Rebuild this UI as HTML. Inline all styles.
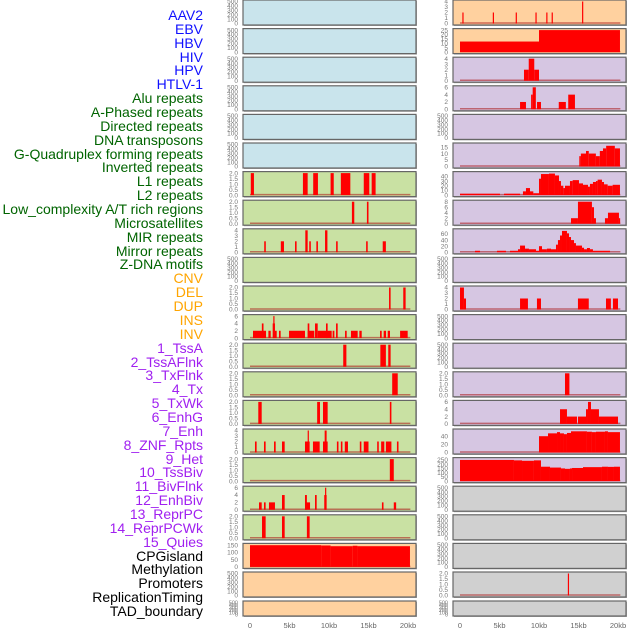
<!DOCTYPE html>
<html><head><meta charset="utf-8">
<style>
html,body{margin:0;padding:0;background:#fff;}
#c{position:relative;width:630px;height:630px;overflow:hidden;font-family:"Liberation Sans",sans-serif;}
.lab{position:absolute;right:427px;font-size:14px;line-height:14px;white-space:nowrap;}
</style></head>
<body>
<div id="c">
<svg id="svg" width="630" height="630" style="position:absolute;left:0;top:0"></svg>
</div>
<script>
// ---- labels ----
const trackLabels = ["AAV2","EBV","HBV","HIV","HPV","HTLV-1","Alu repeats","A-Phased repeats","Directed repeats","DNA transposons","G-Quadruplex forming repeats","Inverted repeats","L1 repeats","L2 repeats","Low_complexity A/T rich regions","Microsatellites","MIR repeats","Mirror repeats","Z-DNA motifs","CNV","DEL","DUP","INS","INV","1_TssA","2_TssAFlnk","3_TxFlnk","4_Tx","5_TxWk","6_EnhG","7_Enh","8_ZNF_Rpts","9_Het","10_TssBiv","11_BivFlnk","12_EnhBiv","13_ReprPC","14_ReprPCWk","15_Quies","CPGisland","Methylation","Promoters","ReplicationTiming","TAD_boundary"];
const labelColors = ["#1010ff","#1010ff","#1010ff","#1010ff","#1010ff","#1010ff","#006400","#006400","#006400","#006400","#006400","#006400","#006400","#006400","#006400","#006400","#006400","#006400","#006400","#ffa500","#ffa500","#ffa500","#ffa500","#ffa500","#a020f0","#a020f0","#a020f0","#a020f0","#a020f0","#a020f0","#a020f0","#a020f0","#a020f0","#a020f0","#a020f0","#a020f0","#a020f0","#a020f0","#a020f0","#000","#000","#000","#000","#000"];
const xTickValues = [0,5,10,15,20];
const xTickLabels = ["0","5kb","10kb","15kb","20kb"];

// ---- tick sets ----
const ticksEmpty = ["0","100","200","300","400","500"];
const ticks2 = ["0.0","0.5","1.0","1.5","2.0"];
const ticks4 = ["0","1","2","3","4"];
const ticks6 = ["0","2","4","6"];
const ticks8 = ["0","2","4","6","8"];
const ticks15 = ["0","5","10","15"];
const ticks25 = ["0","5","10","15","20","25"];
const ticks40 = ["0","10","20","30","40"];
const ticks60 = ["0","20","40","60"];
const ticks40b = ["0","20","40"];
const ticks250 = ["0","50","100","150","200","250"];
const ticks150 = ["0","50","100","150"];

// ---- left column bars [startKb, endKb, value] ----
const L7 = [[0.1,0.5,2],[6.7,7.3,2],[8.0,8.6,2],[10.2,10.6,2],[11.5,12.7,2],[14.4,15.1,2],[15.4,15.9,2]];
const L8 = [[12.9,13.2,2],[14.8,15.0,2]];
const L9 = [[1.8,2.0,2],[3.9,4.3,2],[5.7,5.9,2],[7.0,7.3,4],[7.5,7.7,2],[8.4,8.6,2],[9.5,9.8,4],[10.9,11.1,2],[14.7,14.9,2],[16.8,17.2,2]];
const L11 = [[17.6,17.8,2],[19.4,19.7,2]];
const L12 = [[0.38,2.03,2],[1.5,1.71,4],[2.33,2.62,2],[2.87,3.16,4],[2.95,3.05,6],[3.16,3.38,2],[3.67,3.88,2],[4.94,6.96,2],[7.3,7.51,4],[7.3,8.14,2],[8.23,8.57,4],[8.57,10.34,2],[9.62,9.83,4],[10.46,10.68,2],[10.89,11.1,4],[12.03,12.24,2],[12.78,13.63,2],[13.84,14.14,2],[16.46,16.67,2],[16.92,17.22,2],[17.43,17.72,2],[19.0,19.96,2]];
const L13 = [[11.8,12.2,2],[16.5,17.2,2],[17.5,17.8,2]];
const L14 = [[18.0,18.7,2]];
const L15 = [[1.05,1.48,2],[8.5,8.86,2],[9.24,9.83,2],[17.7,17.9,2]];
const L16 = [[0.63,0.84,2],[1.77,1.98,2],[3.04,3.25,2],[4.05,4.39,2],[6.96,7.55,2],[7.3,7.45,4],[7.97,8.82,2],[9.24,9.83,2],[9.45,9.7,4],[11.0,11.2,2],[11.5,11.7,2],[12.0,12.4,2],[13.9,14.1,2],[14.4,15.0,2],[16.1,16.3,2],[16.6,17.0,2],[17.2,17.9,2],[18.6,18.8,2]];
const L17 = [[17.7,18.2,2]];
const L18 = [[1.14,1.48,2],[1.77,1.98,2],[2.4,3.16,2],[4.05,4.39,4],[6.96,7.6,2],[6.96,7.2,4],[8.23,8.44,4],[9.4,9.7,4],[9.5,9.6,6],[16.7,16.9,2],[18.2,18.5,2]];
const L19 = [[1.52,1.98,2],[4.05,4.39,2],[7.2,7.55,2]];
const L20 = [[0,9.0,150],[9.0,10.2,148],[10.2,13.0,143],[13.0,13.6,146],[13.6,20.25,143]];

// ---- right column bars ----
const R1 = [[0.3,0.4,2],[4.15,4.25,2],[7.05,7.15,2],[9.55,9.65,2],[10.92,11.02,2],[11.6,11.7,2],[15.45,15.55,4]];
const R2 = [[0,10.0,12],[10.0,20.25,25]];
const R3 = [[8.1,8.7,2],[8.7,9.4,4],[9.4,10.0,2]];
const R4 = [[7.6,8.35,2],[9.0,9.2,4],[9.2,9.6,6],[9.75,10.25,2],[12.5,13.4,2],[13.7,14.55,4]];
const R6 = [[15.1,15.3,8],[15.3,15.95,10],[15.95,16.3,12],[16.3,17.2,10],[17.2,17.7,8],[17.7,18.1,12],[18.1,18.5,14],[18.5,19.6,16],[19.6,20.25,14]];
const R7 = [[0,5.06,3],[5.57,7.6,3],[7.97,8.35,8],[8.35,8.86,15],[8.86,9.28,8],[9.28,10.0,4],[10.0,10.25,35],[10.25,11.26,45],[11.26,12.02,46],[12.02,12.53,42],[12.53,12.78,30],[12.78,13.08,20],[13.08,13.29,15],[13.29,13.92,20],[13.92,14.26,30],[14.26,15.06,32],[15.06,15.57,25],[15.57,16.2,22],[16.2,16.45,18],[16.45,16.83,24],[16.83,17.21,28],[17.21,17.42,30],[17.42,17.97,33],[17.97,18.23,28],[18.23,18.69,23],[18.69,19.32,20],[19.32,20.25,22]];
const R8 = [[14.05,14.93,2],[14.93,16.7,8],[16.7,16.96,6],[16.96,17.21,2],[18.35,18.73,2],[18.73,20.12,4],[20.12,20.25,2]];
const R9 = [[1.9,2.53,5],[4.68,5.82,5],[6.33,7.34,5],[7.34,7.6,10],[7.6,8.23,22],[8.23,8.73,12],[8.73,9.62,10],[9.62,10.0,5],[10.0,10.38,20],[10.38,11.0,10],[11.0,11.52,12],[11.52,12.15,10],[12.15,12.4,25],[12.4,12.66,40],[12.66,12.91,55],[12.91,13.54,70],[13.54,13.8,62],[13.8,14.05,50],[14.05,14.43,40],[14.43,14.68,30],[14.68,15.44,22],[15.44,15.7,15],[15.7,16.07,10],[16.07,16.45,14],[16.45,16.83,10],[16.83,18.99,5]];
const R11 = [[0,0.5,4],[0.5,0.76,2],[7.6,8.6,2],[9.74,10.25,2],[14.93,16.3,2],[18.48,19.1,2],[19.36,20.0,2]];
const R14 = [[13.29,13.85,2]];
const R15 = [[12.66,13.54,4],[13.54,14.81,2],[14.93,15.95,2],[15.95,16.2,4],[16.2,16.58,6],[16.58,17.59,4],[17.59,20.0,2]];
const R16 = [[10.0,11.14,40],[11.14,12.28,47],[12.28,12.66,50],[12.66,13.16,47],[13.16,13.54,45],[13.54,14.05,48],[14.05,16.07,52],[16.07,16.7,51],[16.7,17.21,50],[17.21,18.35,51],[18.35,18.73,52],[18.73,20.25,50]];
const R17 = [[0,6.83,250],[6.83,7.85,245],[7.85,9.36,240],[9.36,10.25,245],[10.25,11.39,170],[11.39,12.78,160],[12.78,13.29,150],[13.29,13.92,145],[13.92,14.18,150],[14.18,15.57,155],[15.57,17.97,165],[17.97,18.73,170],[18.73,19.49,168],[19.49,20.25,170]];
const R21 = [[13.65,13.8,2]];

const BLUE="#c9e4ec",GREEN="#c9e1a3",ORANGE="#ffd19f",PURPLE="#d6c6e2",GRAY="#d0d0d0";
const leftRows = [
 [BLUE,null,ticksEmpty,null],[BLUE,null,ticksEmpty,null],[BLUE,null,ticksEmpty,null],[BLUE,null,ticksEmpty,null],[BLUE,null,ticksEmpty,null],[BLUE,null,ticksEmpty,null],
 [GREEN,L7,ticks2,2],[GREEN,L8,ticks2,2],[GREEN,L9,ticks4,4],[GREEN,null,ticksEmpty,null],[GREEN,L11,ticks2,2],[GREEN,L12,ticks6,6],
 [GREEN,L13,ticks2,2],[GREEN,L14,ticks2,2],[GREEN,L15,ticks2,2],[GREEN,L16,ticks4,4],[GREEN,L17,ticks2,2],[GREEN,L18,ticks6,6],[GREEN,L19,ticks2,2],
 [ORANGE,L20,ticks150,152],[ORANGE,null,ticksEmpty,null],[ORANGE,null,ticksEmpty,null]];
const rightRows = [
 [ORANGE,R1,ticks4,4],[ORANGE,R2,ticks25,25],[PURPLE,R3,ticks4,4],[PURPLE,R4,ticks6,6],[PURPLE,null,ticksEmpty,null],[PURPLE,R6,ticks15,17],
 [PURPLE,R7,ticks40,47],[PURPLE,R8,ticks8,8],[PURPLE,R9,ticks60,72],[PURPLE,null,ticksEmpty,null],[PURPLE,R11,ticks4,4],[PURPLE,null,ticksEmpty,null],
 [PURPLE,null,ticksEmpty,null],[PURPLE,R14,ticks2,2],[PURPLE,R15,ticks6,6],[PURPLE,R16,ticks40b,54],[PURPLE,R17,ticks250,260],
 [GRAY,null,ticksEmpty,null],[GRAY,null,ticksEmpty,null],[GRAY,null,ticksEmpty,null],[GRAY,R21,ticks2,2],[GRAY,null,ticksEmpty,null]];

const NS="http://www.w3.org/2000/svg";
const svg=document.getElementById('svg');
function mk(tag,attrs,parent){const e=document.createElementNS(NS,tag);for(const k in attrs)e.setAttribute(k,attrs[k]);(parent||svg).appendChild(e);return e;}

// labels
const cont=document.getElementById('c');
trackLabels.forEach((t,i)=>{
  const d=document.createElement('div');
  d.className='lab';
  d.style.top=(8+i*13.86)+'px';
  d.style.color=labelColors[i];
  d.textContent=t;
  
  
  cont.appendChild(d);
});

function rowTop(r){return r<21? r*28.6 : 601;}
function rowH(r){return r<21?25:15;}

function drawPanel(x0,r,row,side){
  const [bg,bars,ticks,ymax]=row;
  const top=rowTop(r),h=rowH(r),w=173;
  const g=mk('g',{});
  
  
  mk('rect',{x:x0+1,y:top+1,width:w,height:h,fill:'#aaa'},g);
  mk('rect',{x:x0,y:top,width:w,height:h,fill:bg,stroke:'#666',"stroke-width":1.2},g);
  const zeroX=x0+7, pxPerKb=7.9;
  const xs=kb=>zeroX+kb*pxPerKb;
  const bot=top+h-1.5, span=h-3;
  const vmax = ymax || 500;
  const ys=v=>bot-v/(ymax? vmax: 500)*span;
  // y ticks
  const n=ticks.length;
  ticks.forEach((t,i)=>{
    const val = ymax ? parseFloat(t) : parseFloat(t);
    const y = ymax ? ys(val) : bot - (i/(n-1))*span;
    const tx=mk('text',{x:x0-5,y:y+2.2,"font-size":(h<20?5.5:6.5),fill:'#777',"text-anchor":'end',"font-family":'Liberation Sans, sans-serif'},g);
    tx.textContent=t;
    
    
  });
  if(bars){
    const bl=mk('line',{x1:xs(0),x2:xs(20.3),y1:bot-0.5,y2:bot-0.5,stroke:'rgba(170,20,20,0.55)',"stroke-width":1.5},g);
    
    
    bars.forEach(b=>{
      const x1=xs(b[0]),x2=xs(b[1]);
      const y=ys(b[2]);
      const rc=mk('rect',{x:x1,y:Math.max(y,top+0.5),width:Math.max(x2-x1,1.2),height:bot-Math.max(y,top+0.5),fill:'#ff0000'},g);
      
      
    });
  }
}
leftRows.forEach((row,r)=>drawPanel(243,r,row,'left'));
rightRows.forEach((row,r)=>drawPanel(453,r,row,'right'));

// x axes
[[250],[460]].forEach(([z])=>{
  xTickValues.forEach((v,i)=>{
    const t=mk('text',{x:z+v*7.9,y:628,"font-size":7.5,fill:'#666',"text-anchor":'middle',"font-family":'Liberation Sans, sans-serif'});
    t.textContent=xTickLabels[i];
    
    
  });
});
</script>
</body></html>
